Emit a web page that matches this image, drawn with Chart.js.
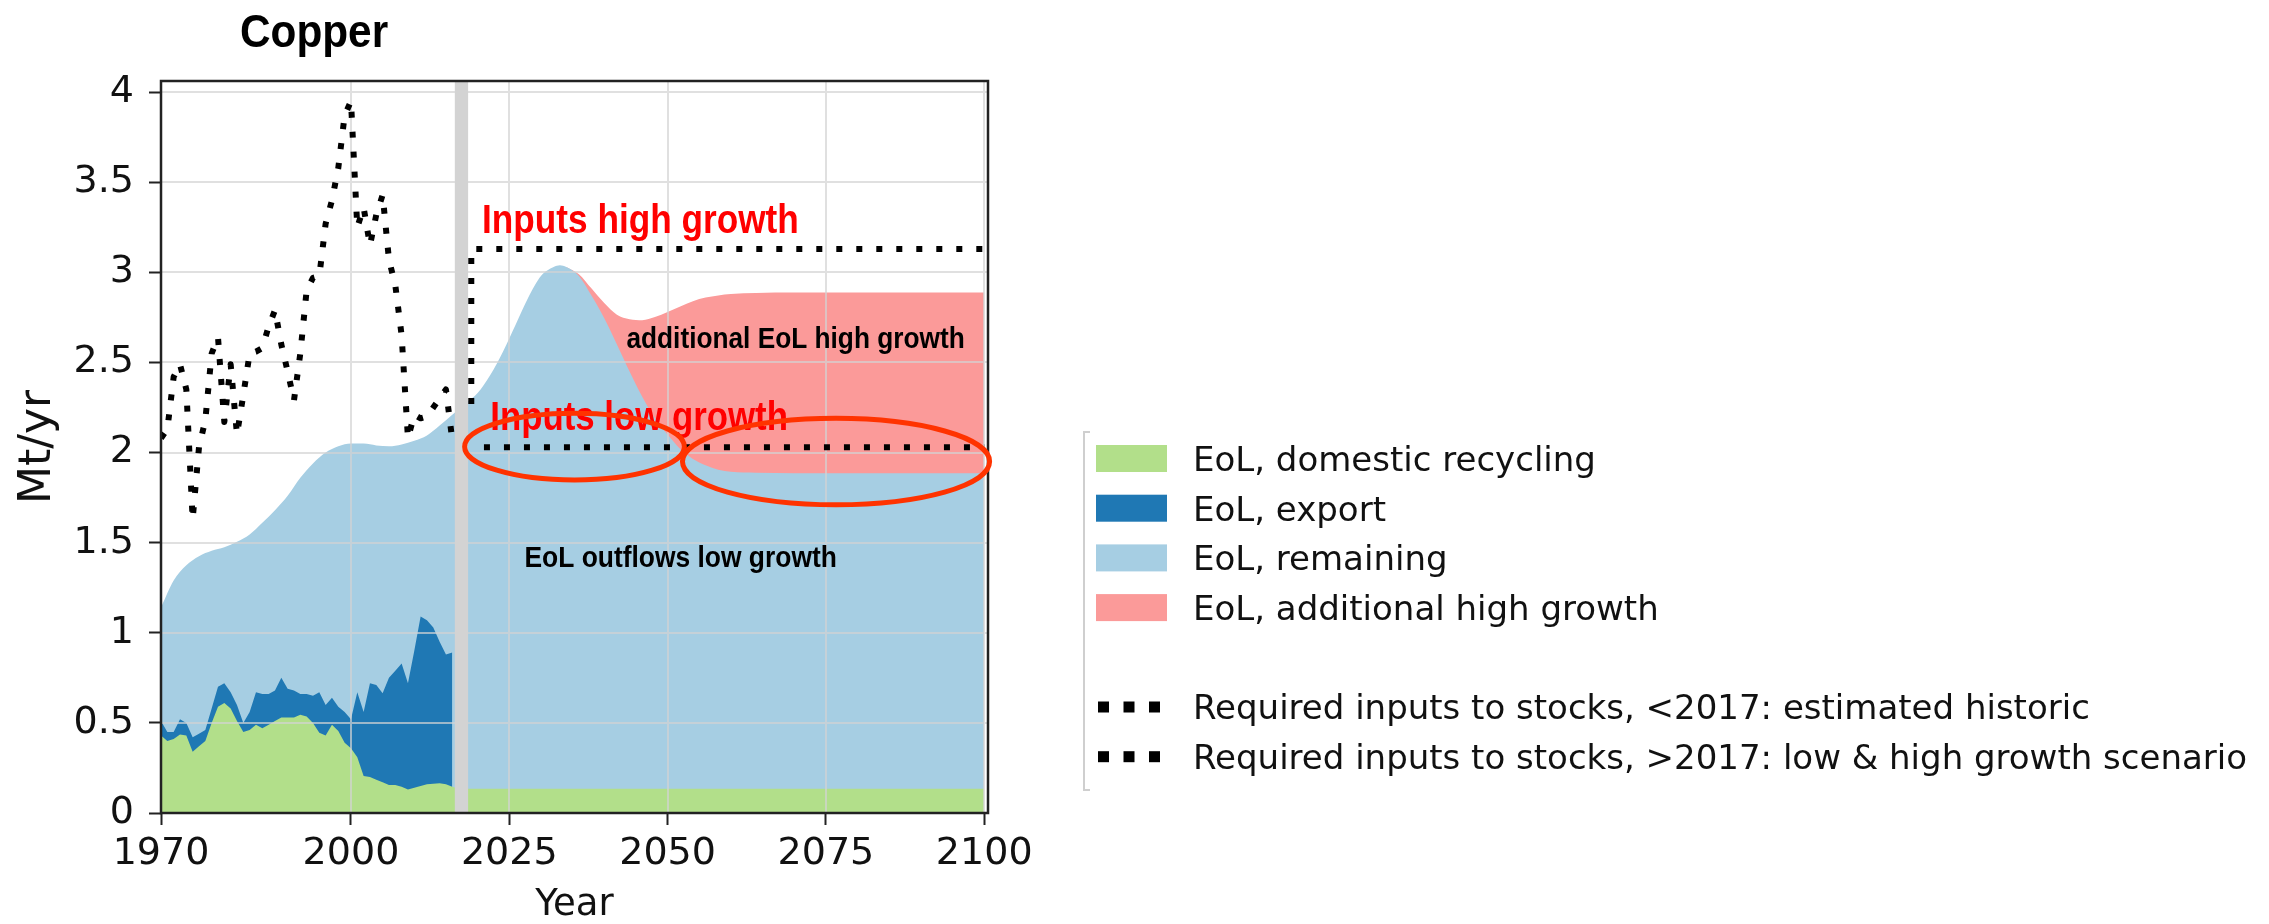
<!DOCTYPE html>
<html>
<head>
<meta charset="utf-8">
<title>Copper – EoL outflows and required inputs to stocks</title>
<script src="https://cdn.jsdelivr.net/npm/chart.js@4/dist/chart.umd.min.js"></script>
<style>
  html, body { margin: 0; padding: 0; background: #ffffff; }
  canvas { display: block; }
</style>
</head>
<body>
<canvas id="chart" width="2269" height="924"></canvas>
<script>
// ---- Historic period, yearly values (Mt/yr) ----
const histYears = [1970, 1971, 1972, 1973, 1974, 1975, 1976, 1977, 1978, 1979,
                   1980, 1981, 1982, 1983, 1984, 1985, 1986, 1987, 1988, 1989,
                   1990, 1991, 1992, 1993, 1994, 1995, 1996, 1997, 1998, 1999,
                   2000, 2001, 2002, 2003, 2004, 2005, 2006, 2007, 2008, 2009,
                   2010, 2011, 2012, 2013, 2014, 2015, 2016];

// EoL, domestic recycling
const recycling = [0.43, 0.40, 0.41, 0.435, 0.43, 0.34, 0.37, 0.40, 0.50, 0.59,
                   0.61, 0.58, 0.51, 0.45, 0.46, 0.49, 0.47, 0.49, 0.51, 0.53,
                   0.53, 0.53, 0.545, 0.535, 0.50, 0.445, 0.43, 0.49, 0.455, 0.39,
                   0.36, 0.31, 0.205, 0.20, 0.185, 0.17, 0.155, 0.155, 0.145, 0.13,
                   0.14, 0.15, 0.16, 0.163, 0.165, 0.16, 0.145];

// EoL, export
const exportFlow = [0.08, 0.05, 0.04, 0.085, 0.07, 0.08, 0.07, 0.06, 0.08, 0.11,
                    0.11, 0.09, 0.09, 0.05, 0.10, 0.18, 0.19, 0.17, 0.17, 0.22,
                    0.16, 0.15, 0.115, 0.125, 0.15, 0.225, 0.17, 0.15, 0.135, 0.17,
                    0.16, 0.36, 0.355, 0.52, 0.525, 0.495, 0.595, 0.635, 0.685, 0.59,
                    0.76, 0.94, 0.91, 0.867, 0.785, 0.72, 0.745];

// Required inputs to stocks, estimated historic
const inputsHist = [2.08, 2.13, 2.42, 2.49, 2.35, 1.63, 2.03, 2.18, 2.55, 2.64,
                    2.17, 2.49, 2.10, 2.32, 2.55, 2.56, 2.58, 2.70, 2.79, 2.60,
                    2.45, 2.29, 2.55, 2.90, 2.97, 2.98, 3.27, 3.40, 3.58, 3.87,
                    3.95, 3.25, 3.36, 3.15, 3.32, 3.43, 3.07, 2.93, 2.65, 2.08,
                    2.21, 2.19, 2.20, 2.25, 2.30, 2.35, 2.07];

// ---- Projection period ----
const projYears = [2017, 2100];
const recyclingProj = [0.135, 0.135];

// Total EoL outflows, low growth (historic + projection)
const outflowYears = [1970, 1972, 1974, 1976, 1978, 1980, 1982, 1984, 1986, 1988,
                      1990, 1992, 1994, 1996, 1998, 2000, 2002, 2004, 2006, 2008,
                      2010, 2012, 2014, 2016, 2018, 2020, 2022, 2024, 2026, 2028,
                      2030, 2032, 2033, 2034, 2036, 2038, 2040, 2042, 2044, 2046,
                      2048, 2050, 2052, 2054, 2056, 2058, 2060, 2064, 2070, 2100];
const outflowsLow = [1.14, 1.29, 1.375, 1.425, 1.455, 1.475, 1.505, 1.545, 1.61, 1.68,
                     1.76, 1.86, 1.94, 2.00, 2.035, 2.05, 2.05, 2.04, 2.035, 2.045,
                     2.065, 2.095, 2.15, 2.21, 2.27, 2.33, 2.43, 2.56, 2.71, 2.86,
                     2.98, 3.03, 3.04, 3.03, 2.98, 2.87, 2.745, 2.60, 2.45, 2.31,
                     2.19, 2.10, 2.02, 1.965, 1.93, 1.905, 1.893, 1.888, 1.886, 1.886];

// Total EoL outflows, high growth (where it departs from low growth)
const highYears = [2034, 2036, 2038, 2040, 2042, 2044, 2046, 2048, 2050, 2052,
                   2054, 2056, 2058, 2060, 2064, 2070, 2100];
const outflowsHigh = [3.03, 2.99, 2.91, 2.83, 2.765, 2.74, 2.735, 2.752, 2.78, 2.81,
                      2.84, 2.86, 2.872, 2.88, 2.886, 2.888, 2.888];

// Required inputs to stocks, scenarios
const scenarioHighYears = [2019, 2020, 2100];
const inputsHigh = [2.27, 3.13, 3.13];
const scenarioLowYears = [2021, 2100];
const inputsLow = [2.03, 2.03];

// Base-year band and axis ticks
const baseYearBand = [2016.4, 2018.5];
const xTicks = [1970, 2000, 2025, 2050, 2075, 2100];
const yTicks = [0, 0.5, 1, 1.5, 2, 2.5, 3, 3.5, 4];

// ---- helpers ----
const pts = (xs, ys) => xs.map((x, i) => ({ x: x, y: ys[i] }));
const exportTop = histYears.map((_, i) => recycling[i] + exportFlow[i]);

const COLORS = {
  recycling: '#b2df8a',
  export: '#1f78b4',
  remaining: '#a6cee3',
  high: '#fb9a99',
  band: '#d3d3d3',
  grid: 'rgba(211,211,211,0.7)',
  ring: '#ff3300',
  frame: '#222222',
  text: '#111111'
};

const areaStyle = (color, order) => ({
  backgroundColor: color, borderColor: 'transparent', borderWidth: 0,
  fill: 'origin', pointRadius: 0, order: order
});
const dotStyle = (order) => ({
  borderColor: '#000000', backgroundColor: '#000000', borderWidth: 6,
  borderDash: [6, 14], borderCapStyle: 'butt', borderJoinStyle: 'round',
  fill: false, pointRadius: 0, order: order
});

const SCENARIO_LABEL = 'Required inputs to stocks, >2017: low & high growth scenario';

const datasets = [
  Object.assign({ label: 'EoL, domestic recycling',
    data: pts(histYears.concat(projYears), recycling.concat(recyclingProj)) }, areaStyle(COLORS.recycling, 3)),
  Object.assign({ label: 'EoL, export',
    data: pts(histYears, exportTop) }, areaStyle(COLORS.export, 4)),
  Object.assign({ label: 'EoL, remaining', cubicInterpolationMode: 'monotone',
    data: pts(outflowYears, outflowsLow) }, areaStyle(COLORS.remaining, 5)),
  Object.assign({ label: 'EoL, additional high growth', cubicInterpolationMode: 'monotone',
    data: pts(highYears, outflowsHigh) }, areaStyle(COLORS.high, 6)),
  Object.assign({ label: 'Required inputs to stocks, <2017: estimated historic',
    data: pts(histYears, inputsHist) }, dotStyle(1)),
  Object.assign({ label: SCENARIO_LABEL,
    data: pts(scenarioLowYears, inputsLow) }, dotStyle(0)),
  Object.assign({ label: SCENARIO_LABEL, stepped: 'after',
    data: pts(scenarioHighYears, inputsHigh) }, dotStyle(0))
];

// Text notes inside the plot, anchored in data coordinates (left, baseline)
const notes = [
  { text: 'Inputs high growth', year: 2020.7, value: 3.217, size: 40, color: '#ff0000', squeeze: 0.88 },
  { text: 'Inputs low growth', year: 2022.0, value: 2.126, size: 40, color: '#ff0000', squeeze: 0.87 },
  { text: 'additional EoL high growth', year: 2043.5, value: 2.579, size: 30, color: '#000000', squeeze: 0.875 },
  { text: 'EoL outflows low growth', year: 2027.4, value: 1.367, size: 30, color: '#000000', squeeze: 0.88 }
];
// Highlight rings (centre and half-extent in data units)
const rings = [
  { year: 2035.3, value: 2.033, dYear: 17.35, dValue: 0.185 },
  { year: 2076.6, value: 1.95, dYear: 24.25, dValue: 0.24 }
];

function squeezedText(ctx, text, x, y, font, color, squeeze) {
  ctx.save();
  ctx.font = font;
  ctx.fillStyle = color;
  ctx.textAlign = 'left';
  ctx.textBaseline = 'alphabetic';
  ctx.translate(x, y);
  ctx.scale(squeeze, 1);
  ctx.fillText(text, 0, 0);
  ctx.restore();
}

const overlay = {
  id: 'overlay',
  // grid and base-year band sit above the stacked areas, below the input lines
  afterDatasetDraw(chart, args) {
    if (args.index !== 0) return;
    const { ctx, chartArea: a, scales: { x, y } } = chart;
    ctx.save();
    ctx.beginPath();
    ctx.rect(a.left, a.top, a.right - a.left, a.bottom - a.top);
    ctx.clip();
    ctx.strokeStyle = COLORS.grid;
    ctx.lineWidth = 2;
    ctx.beginPath();
    xTicks.forEach(v => { const px = Math.round(x.getPixelForValue(v)); ctx.moveTo(px, a.top); ctx.lineTo(px, a.bottom); });
    yTicks.forEach(v => { const py = Math.round(y.getPixelForValue(v)); ctx.moveTo(a.left, py); ctx.lineTo(a.right, py); });
    ctx.stroke();
    const b0 = x.getPixelForValue(baseYearBand[0]);
    const b1 = x.getPixelForValue(baseYearBand[1]);
    ctx.fillStyle = COLORS.band;
    ctx.fillRect(b0, a.top, b1 - b0, a.bottom - a.top);
    ctx.restore();
  },
  afterDraw(chart) {
    const { ctx, chartArea: a, scales: { x, y } } = chart;

    // axes frame
    ctx.save();
    ctx.strokeStyle = COLORS.frame;
    ctx.lineWidth = 2.5;
    ctx.strokeRect(a.left, a.top, a.right - a.left, a.bottom - a.top);
    ctx.restore();

    // notes
    notes.forEach(n => {
      squeezedText(ctx, n.text, x.getPixelForValue(n.year), y.getPixelForValue(n.value),
        'bold ' + n.size + 'px "Liberation Sans", Arial, sans-serif', n.color, n.squeeze);
    });

    // rings
    ctx.save();
    ctx.strokeStyle = COLORS.ring;
    ctx.lineWidth = 5;
    rings.forEach(r => {
      const cx = x.getPixelForValue(r.year), cy = y.getPixelForValue(r.value);
      const rx = x.getPixelForValue(r.year + r.dYear) - cx;
      const ry = cy - y.getPixelForValue(r.value + r.dValue);
      ctx.beginPath();
      ctx.ellipse(cx, cy, rx, ry, 0, 0, Math.PI * 2);
      ctx.stroke();
    });
    ctx.restore();

    // title
    squeezedText(ctx, 'Copper', 240, 47, 'bold 46px "Liberation Sans", Arial, sans-serif', '#000000', 0.92);

    // legend
    const ds = chart.data.datasets;
    const rows = [0, 1, 2, 3, null, 4, 5];
    const lx = 1096, tx = 1193, top = 458.5, step = 49.7;
    ctx.save();
    ctx.strokeStyle = '#cfcfcf';
    ctx.lineWidth = 2;
    ctx.beginPath();
    ctx.moveTo(1090, 432); ctx.lineTo(1084, 432); ctx.lineTo(1084, 790); ctx.lineTo(1090, 790);
    ctx.stroke();
    ctx.font = '34px "DejaVu Sans"';
    ctx.textBaseline = 'alphabetic';
    ctx.textAlign = 'left';
    rows.forEach((idx, r) => {
      if (idx === null) return;
      const cy = top + r * step;
      const d = ds[idx];
      if (d.fill === 'origin') {
        ctx.fillStyle = d.backgroundColor;
        ctx.fillRect(lx, cy - 13.5, 71, 27);
      } else {
        ctx.fillStyle = d.borderColor;
        [0, 25.5, 51].forEach(off => ctx.fillRect(lx + 2 + off, cy - 5.5, 11, 11));
      }
      ctx.fillStyle = COLORS.text;
      ctx.fillText(d.label, tx, cy + 12.4);
    });
    ctx.restore();
  }
};

const tickFont = { family: 'DejaVu Sans', size: 38 };
const tickGrid = { drawOnChartArea: false, drawTicks: true, tickLength: 12, tickColor: COLORS.frame, tickWidth: 2 };

new Chart(document.getElementById('chart'), {
  type: 'line',
  data: { datasets: datasets },
  options: {
    responsive: false,
    animation: false,
    events: [],
    layout: { padding: { left: 0, top: 81, right: 1281, bottom: 0 } },
    plugins: { legend: { display: false }, tooltip: { enabled: false }, title: { display: false } },
    elements: { point: { radius: 0 }, line: { tension: 0 } },
    scales: {
      x: {
        type: 'linear', min: 1970, max: 2100.6,
        afterBuildTicks: s => { s.ticks = xTicks.map(v => ({ value: v })); },
        afterFit: s => { s.height = 111; },
        ticks: { autoSkip: false, maxRotation: 0, padding: 6, color: COLORS.text, font: tickFont,
                 callback: v => String(v) },
        grid: tickGrid,
        border: { display: false },
        title: { display: true, text: 'Year', color: COLORS.text,
                 font: { family: 'DejaVu Sans', size: 37, lineHeight: 1 }, padding: { top: 0, bottom: 0 } }
      },
      y: {
        type: 'linear', min: 0, max: 4.062,
        afterBuildTicks: s => { s.ticks = yTicks.map(v => ({ value: v })); },
        afterFit: s => { s.width = 161; },
        ticks: { padding: 15, color: COLORS.text, font: tickFont, callback: v => String(v) },
        grid: tickGrid,
        border: { display: false },
        title: { display: true, text: 'Mt/yr', color: COLORS.text,
                 font: { family: 'DejaVu Sans', size: 44, lineHeight: 1.2 }, padding: { top: 12, bottom: 0 } }
      }
    }
  },
  plugins: [overlay]
});
</script>
</body>
</html>
